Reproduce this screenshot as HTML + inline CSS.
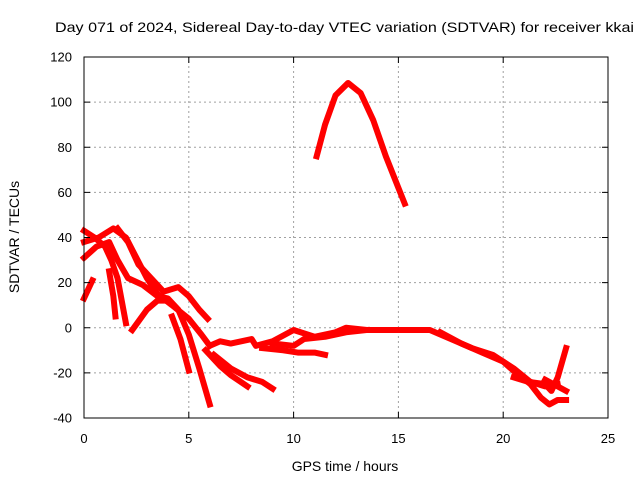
<!DOCTYPE html>
<html><head><meta charset="utf-8"><style>
body{margin:0;background:#fff}
svg{display:block;font-family:"Liberation Sans",sans-serif}
</style></head><body>
<svg id="chart" width="640" height="480" viewBox="0 0 640 480" xmlns="http://www.w3.org/2000/svg">
<rect width="640" height="480" fill="#fff"/>
<text x="55" y="32" font-size="14" textLength="579" lengthAdjust="spacingAndGlyphs" fill="#000">Day 071 of 2024, Sidereal Day-to-day VTEC variation (SDTVAR) for receiver kkai</text>
<g id="grid"></g>
<g id="tracks"></g>
<rect x="84" y="57" width="524" height="361" fill="none" stroke="#000" stroke-width="1"/>
<g id="ticks"></g>
<text x="345" y="471" font-size="14" text-anchor="middle">GPS time / hours</text>
<text transform="translate(19,237) rotate(-90)" font-size="14" text-anchor="middle">SDTVAR / TECUs</text>
</svg>
<script>
const xTicks=[0,5,10,15,20,25];
const yTicks=[-40,-20,0,20,40,60,80,100,120];
const track1=[[0,13],[0.4,21]];
const track2=[[0,43],[0.5,40],[1.0,36],[1.3,30],[1.6,22],[1.8,12],[2.0,2]];
const track3=[[0,38],[0.7,40],[1.4,44],[2.0,40],[2.5,31],[3.0,22],[3.5,15],[4.2,10],[5,4],[5.6,-3],[6,-8]];
const track4=[[0,31],[0.6,36],[1.2,38],[1.6,30],[2.1,22],[2.8,19],[3.5,14],[4.0,13],[4.5,8],[5,-3],[5.5,-18],[6,-34]];
const track5=[[1.6,44],[2.1,38],[2.6,28],[3.2,22],[3.8,16],[4.5,18],[5,14],[5.5,8],[5.9,4]];
const track6=[[1.2,25],[1.4,14],[1.5,5]];
const track7=[[2.3,-1],[3,8],[3.5,12],[4,12]];
const track8=[[4.2,5],[4.6,-5],[5,-19]];
const track9=[[6,-8],[6.5,-6],[7,-7],[7.5,-6],[8,-5],[8.2,-8],[9,-6],[10,-1],[11,-4],[12,-2],[12.5,0],[13.5,-1],[15,-1],[16.5,-1],[17.5,-5],[18.5,-9],[19.5,-12],[20.5,-18],[21.3,-24],[22,-26],[22.6,-25]];
const track10=[[8.5,-9],[9.5,-10],[10.2,-11],[11,-11],[11.5,-12]];
const track11=[[9,-7],[10,-8],[10.5,-5],[11.5,-4],[12.5,-2],[13.5,-1]];
const track12=[[5.8,-10],[6.5,-17],[7,-21],[7.8,-26]];
const track13=[[6.2,-12],[7,-18],[7.8,-22],[8.5,-24],[9,-27]];
const track14=[[17,-2],[18,-7],[19,-11],[20,-15],[20.6,-20],[21.3,-25],[21.8,-31],[22.2,-34],[22.6,-32],[23,-32]];
const track15=[[20.5,-22],[21.2,-24],[22,-25],[22.3,-28],[22.6,-22],[23,-9]];
const track16=[[22,-23],[23,-28]];
const track17=[[11.1,76],[11.5,90],[12,103],[12.6,108.5],[13.2,104],[13.8,92],[14.4,76],[15,62],[15.3,55]];
const tracks=[track1,track2,track3,track4,track5,track6,track7,track8,track9,track10,track11,track12,track13,track14,track15,track16,track17];
const NS="http://www.w3.org/2000/svg";
const X0=84,X1=608,Y0=418,Y1=57;
function sx(v){return X0+(v-0)/(25-0)*(X1-X0);}
function sy(v){return Y0-(v+40)/160*(Y0-Y1);}
const grid=document.getElementById('grid'),ticks=document.getElementById('ticks'),tg=document.getElementById('tracks');
function mk(t,a,p){const e=document.createElementNS(NS,t);for(const k in a)e.setAttribute(k,a[k]);p.appendChild(e);return e;}
xTicks.forEach(v=>{
  const x=sx(v);
  if(v>0&&v<25){const g=mk('line',{x1:x,x2:x,y1:Y0,y2:Y1,stroke:'#a0a0a0','stroke-dasharray':'2,3'},grid);
  
  }
  const t=mk('text',{x:x,y:443,'font-size':13,'text-anchor':'middle'},ticks);
  t.textContent=v;
  
  
  mk('line',{x1:x,x2:x,y1:Y0,y2:Y0-6,stroke:'#000'},ticks);
  mk('line',{x1:x,x2:x,y1:Y1,y2:Y1+6,stroke:'#000'},ticks);
});
yTicks.forEach(v=>{
  const y=sy(v);
  if(v>-40&&v<120){const g=mk('line',{x1:X0,x2:X1,y1:y,y2:y,stroke:'#a0a0a0','stroke-dasharray':'2,3'},grid);
  
  }
  const t=mk('text',{x:72,y:y+4.5,'font-size':13,'text-anchor':'end'},ticks);
  t.textContent=v;
  
  
  mk('line',{x1:X0,x2:X0+6,y1:y,y2:y,stroke:'#000'},ticks);
  mk('line',{x1:X1,x2:X1-6,y1:y,y2:y,stroke:'#000'},ticks);
});
tracks.forEach((tr,i)=>{
  const p=mk('polyline',{points:tr.map(d=>sx(d[0])+','+sy(d[1])).join(' '),fill:'none',stroke:'#ff0000','stroke-width':6,'stroke-linejoin':'round','stroke-linecap':'square'},tg);
  
  
});
</script>
</body></html>
